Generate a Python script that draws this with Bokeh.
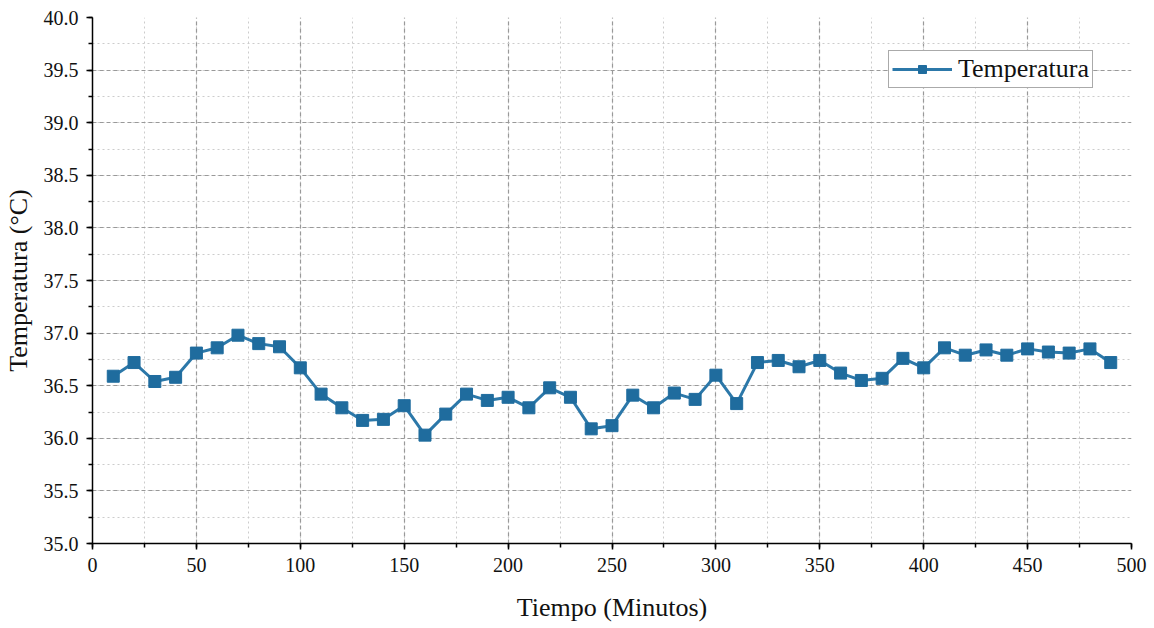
from bokeh.plotting import figure
from bokeh.models import Range1d, SingleIntervalTicker, PrintfTickFormatter, Legend, LegendItem
from bokeh.embed import file_html
from bokeh.resources import INLINE

tiempo = [10, 20, 30, 40, 50, 60, 70, 80, 90, 100, 110, 120, 130, 140, 150, 160, 170, 180, 190, 200,
          210, 220, 230, 240, 250, 260, 270, 280, 290, 300, 310, 320, 330, 340, 350, 360, 370, 380, 390, 400,
          410, 420, 430, 440, 450, 460, 470, 480, 490]
temperatura = [36.59, 36.72, 36.54, 36.58, 36.81, 36.86, 36.98, 36.90, 36.87, 36.67,
               36.42, 36.29, 36.17, 36.18, 36.31, 36.03, 36.23, 36.42, 36.36, 36.39,
               36.29, 36.48, 36.39, 36.09, 36.12, 36.41, 36.29, 36.43, 36.37, 36.60,
               36.33, 36.72, 36.74, 36.68, 36.74, 36.62, 36.55, 36.57, 36.76, 36.67,
               36.86, 36.79, 36.84, 36.79, 36.85, 36.82, 36.81, 36.85, 36.72]

FONT = "Liberation Serif"

p = figure(width=1154, height=628, output_backend="svg", toolbar_location=None,
           x_range=Range1d(0, 500), y_range=Range1d(35, 40),
           min_border_left=92, min_border_right=23, min_border_top=17, min_border_bottom=85)
p.outline_line_color = None
p.background_fill_color = "white"
p.border_fill_color = "white"

p.xaxis.ticker = SingleIntervalTicker(interval=50, num_minor_ticks=2)
p.yaxis.ticker = SingleIntervalTicker(interval=0.5, num_minor_ticks=2)
p.yaxis.formatter = PrintfTickFormatter(format="%.1f")

for ax in (p.xaxis[0], p.yaxis[0]):
    ax.axis_line_color = "black"
    ax.axis_line_width = 1.5
    ax.major_tick_line_color = "black"
    ax.major_tick_line_width = 1.5
    ax.minor_tick_line_color = "black"
    ax.minor_tick_line_width = 1.5
    ax.major_tick_out = 6
    ax.major_tick_in = 0
    ax.minor_tick_out = 4
    ax.minor_tick_in = 0
    ax.major_label_text_font = FONT
    ax.major_label_text_font_size = "20px"
    ax.major_label_text_color = "#111111"
    ax.axis_label_text_font = FONT
    ax.axis_label_text_font_size = "26px"
    ax.axis_label_text_font_style = "normal"
    ax.axis_label_text_color = "#111111"

p.xaxis.axis_label = "Tiempo (Minutos)"
p.yaxis.axis_label = "Temperatura (°C)"
p.xaxis.axis_label_standoff = 18
p.yaxis.axis_label_standoff = 8
p.xaxis.major_label_standoff = 8
p.yaxis.major_label_standoff = 8

for g in (p.xgrid[0], p.ygrid[0]):
    g.grid_line_color = "#999999"
    g.grid_line_dash = "4 3"
    g.grid_line_width = 1.2
    g.minor_grid_line_color = "#cccccc"
    g.minor_grid_line_dash = "2 3"
    g.minor_grid_line_width = 1

ln = p.line(tiempo, temperatura, line_color="#2c78a9", line_width=3)
sc = p.scatter(tiempo, temperatura, marker="square", size=12, fill_color="#1f6c9e",
               line_color="#1f6c9e")

legend = Legend(items=[LegendItem(label="Temperatura", renderers=[ln, sc])],
                location=(796, 455))
legend.label_text_font = FONT
legend.label_text_font_size = "26px"
legend.label_text_color = "#111111"
legend.border_line_color = "#555555"
legend.border_line_width = 1
legend.glyph_width = 60
legend.glyph_height = 20
legend.padding = 3
legend.spacing = 0
legend.label_standoff = 6
legend.label_height = 20
legend.background_fill_alpha = 1
p.add_layout(legend, "center")

open("out.html", "w").write(file_html(p, INLINE))
